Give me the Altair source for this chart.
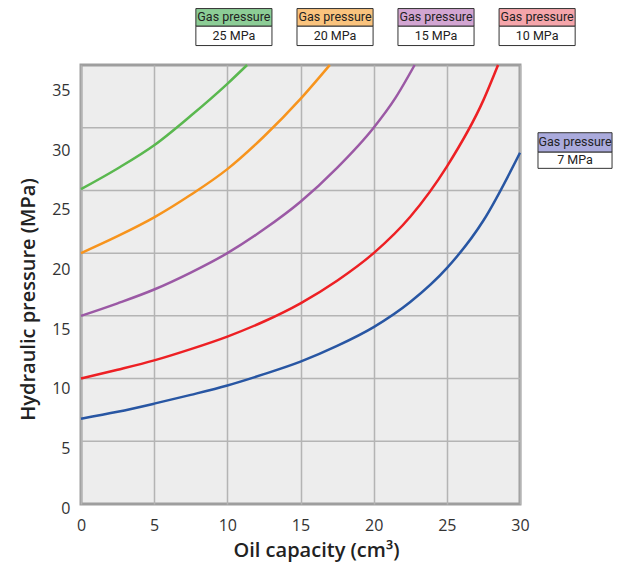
import altair as alt
import pandas as pd

# ---- curve data ----
green_x = [0, 2.5, 5, 7.5, 10, 11.35]
green_y = [25.1, 26.75, 28.6, 30.95, 33.5, 35.0]
orange_x = [0, 2.5, 5, 7.5, 10, 12.5, 15, 17.0]
orange_y = [20.0, 21.35, 22.85, 24.65, 26.7, 29.3, 32.3, 35.0]
purple_x = [0, 2.5, 5, 7.5, 10, 12.5, 15, 17.5, 20, 21.5, 22.8]
purple_y = [15.0, 16.0, 17.1, 18.45, 20.0, 21.9, 24.1, 26.8, 30.0, 32.4, 35.0]
red_x = [0, 2.5, 5, 7.5, 10, 12.5, 15, 17.5, 20, 22.5, 25, 27.5, 28.5]
red_y = [10.0, 10.7, 11.45, 12.35, 13.35, 14.55, 16.0, 17.8, 20.0, 22.9, 26.9, 32.2, 35.0]
blue_x = [0, 2.5, 5, 7.5, 10, 12.5, 15, 17.5, 20, 22.5, 25, 27.5, 30]
blue_y = [6.8, 7.35, 8.0, 8.7, 9.45, 10.35, 11.35, 12.6, 14.1, 16.1, 18.8, 22.6, 28.0]

series_names = ["25 MPa", "20 MPa", "15 MPa", "10 MPa", "7 MPa"]
line_colors = ["#5ab84f", "#f7941d", "#9b59a5", "#ed2024", "#2856a3"]
header_colors = ["#8ccd96", "#fac37d", "#d2a5d2", "#f5a5aa", "#aaaadc"]
header_text = "Gas pressure"

x_ticks = [0, 5, 10, 15, 20, 25, 30]
y_grid = [5, 10, 15, 20, 25, 30]
y_tick_labels = [0, 5, 10, 15, 20, 25, 30, 35]
label_step = 4.757  # data units between printed y labels in the original

rows = []
for name, xs, ys in zip(series_names,
                        [green_x, orange_x, purple_x, red_x, blue_x],
                        [green_y, orange_y, purple_y, red_y, blue_y]):
    for i, (a, b) in enumerate(zip(xs, ys)):
        rows.append({"series": name, "x": a, "y": b, "order": i})
df = pd.DataFrame(rows)

# legend box layout (data units)
box_xc = [10.45, 17.36, 24.26, 31.17, 33.76]
box_w = [5.2, 5.2, 5.2, 5.2, 5.06]
box_top = [39.5, 39.5, 39.5, 39.5, 29.6]
box_mid = [38.09, 38.09, 38.09, 38.09, 28.05]
box_bot = [36.55, 36.55, 36.55, 36.55, 26.76]
boxes = pd.DataFrame({
    "series": series_names,
    "hdr": header_colors,
    "x1": [c - w / 2 for c, w in zip(box_xc, box_w)],
    "x2": [c + w / 2 for c, w in zip(box_xc, box_w)],
    "xc": box_xc,
    "top": box_top,
    "mid": box_mid,
    "bot": box_bot,
})
boxes["hy"] = (boxes["top"] + boxes["mid"]) / 2
boxes["by"] = (boxes["mid"] + boxes["bot"]) / 2
boxes["head"] = header_text

xscale = alt.Scale(domain=[0, 30], nice=False, zero=False)
yscale = alt.Scale(domain=[0, 35], nice=False, zero=False)
FONT = "Open Sans"
BOXFONT = "Roboto"

x_axis = alt.Axis(
    values=x_ticks, grid=True, gridColor="#b4b4b4", gridWidth=1.5,
    domain=False, ticks=False, labelPadding=13, labelFontSize=16,
    labelFont=FONT, labelColor="#333", title="Oil capacity (cm³)",
    titleFont=FONT, titleFontSize=20, titleFontWeight=600, titleColor="#222",
    titleX=235, titleY=52, titleBaseline="alphabetic", titleAlign="center",
    labelFlush=False,
)
y_axis = alt.Axis(
    values=[k * label_step for k in range(len(y_tick_labels))],
    labelExpr=f"format(round(datum.value / {label_step}) * 5, 'd')",
    labelOffset=4, grid=False, domain=False, ticks=False,
    labelPadding=11, labelFontSize=16, labelFont=FONT, labelColor="#333",
    title="Hydraulic pressure (MPa)", titleFont=FONT, titleFontSize=20,
    titleFontWeight=600, titleColor="#222", titleX=-53, titleY=234,
    titleBaseline="middle", titleAngle=-90, titleAlign="center",
)

grid = alt.Chart(pd.DataFrame({"g": y_grid})).mark_rule(
    color="#b4b4b4", strokeWidth=1.5
).encode(y=alt.Y("g:Q", scale=yscale, axis=y_axis))

lines = alt.Chart(df).mark_line(strokeWidth=2.5, interpolate="monotone").encode(
    x=alt.X("x:Q", scale=xscale, axis=x_axis),
    y=alt.Y("y:Q", scale=yscale, axis=y_axis),
    color=alt.Color("series:N", scale=alt.Scale(domain=series_names, range=line_colors), legend=None),
    order="order:Q",
)

hdr = alt.Chart(boxes).mark_rect(stroke="#333", strokeWidth=1).encode(
    x="x1:Q", x2="x2:Q", y="top:Q", y2="mid:Q",
    fill=alt.Fill("hdr:N", scale=None),
)
body = alt.Chart(boxes).mark_rect(stroke="#333", strokeWidth=1, fill="white").encode(
    x="x1:Q", x2="x2:Q", y="mid:Q", y2="bot:Q",
)
hdr_txt = alt.Chart(boxes).mark_text(font=BOXFONT, fontSize=12.5, color="#222", baseline="middle").encode(
    x="xc:Q", y="hy:Q", text="head:N"
)
body_txt = alt.Chart(boxes).mark_text(font=BOXFONT, fontSize=12.5, color="#222", baseline="middle").encode(
    x="xc:Q", y="by:Q", text="series:N"
)

chart = alt.layer(grid, lines, hdr, body, hdr_txt, body_txt).properties(
    width=439, height=439,
    padding={"left": 73, "top": 57, "right": 93, "bottom": 58},
    autosize=alt.AutoSizeParams(type="none"),
    background="white",
).configure_view(
    fill="#ededed", stroke="#9e9e9e", strokeWidth=3
)

chart.save("out.html", embed_options={"renderer": "svg", "actions": False})
